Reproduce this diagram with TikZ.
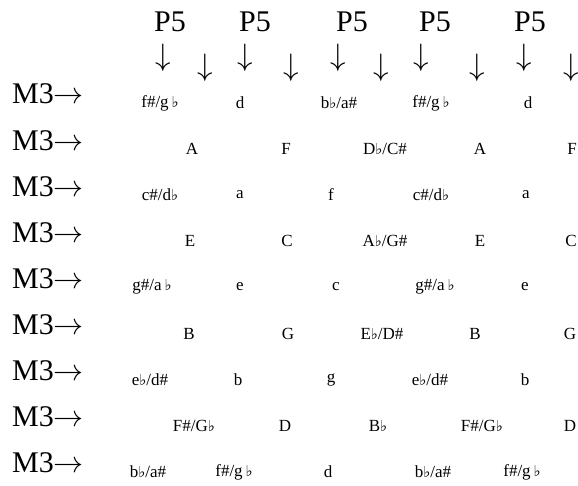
\RequirePackage{fix-cm}
\documentclass[tikz,border=0pt]{standalone}
\usepackage{fontspec}
\setmainfont{Liberation Serif}
\newfontfamily\symfamily{DejaVu Serif}
\newcommand{\fl}{{\symfamily\fontsize{15}{17}\selectfont ♭}}
\begin{document}
\begin{tikzpicture}[x=1pt,y=-1pt,
  big/.style={font=\fontsize{30}{36}\selectfont, inner sep=0pt, text height=20pt, text depth=0pt},
  rowlab/.style={big, anchor=west},
  darr/.style={font=\fontsize{31}{37}\selectfont, inner sep=0pt, text height=21.5pt, text depth=6pt},
  note/.style={font=\fontsize{17}{20}\selectfont, inner sep=0pt}]
\useasboundingbox (0,0) rectangle (578,486);
% P5 labels
\node[big] (p1) at (170,22) {P5};
\node[big] (p2) at (255,22) {P5};
\node[big] (p3) at (352,22) {P5};
\node[big] (p4) at (435,22) {P5};
\node[big] (p5) at (530,22) {P5};
% arrows upper
\node[darr] (ua1) at (163,58) {$\downarrow$};
\node[darr] (ua2) at (245,58) {$\downarrow$};
\node[darr] (ua3) at (338,58) {$\downarrow$};
\node[darr] (ua4) at (421,58) {$\downarrow$};
\node[darr] (ua5) at (524,58) {$\downarrow$};
% arrows lower
\node[darr] (la1) at (205,68) {$\downarrow$};
\node[darr] (la2) at (291,68) {$\downarrow$};
\node[darr] (la3) at (381,68) {$\downarrow$};
\node[darr] (la4) at (477,68) {$\downarrow$};
\node[darr] (la5) at (571,68) {$\downarrow$};
% row labels
\foreach \i in {0,...,8} {
  \node[rowlab] (m\i) at (12,{94+46.1*\i}) {M3$\rightarrow$};
}
% row 1
\node[note] (r1c1) at (160,103) {f\#/g\,\fl};
\node[note] (r1c2) at (240,103) {d};
\node[note] (r1c3) at (339,103) {b\fl/a\#};
\node[note] (r1c4) at (431,103) {f\#/g\,\fl};
\node[note] (r1c5) at (528,103) {d};
% row 2
\node[note] (r2c1) at (192,149) {A};
\node[note] (r2c2) at (286,149) {F};
\node[note] (r2c3) at (385,149) {D\fl/C\#};
\node[note] (r2c4) at (480,149) {A};
\node[note] (r2c5) at (572,149) {F};
% row 3
\node[note] (r3c1) at (160,195) {c\#/d\fl};
\node[note] (r3c2) at (240,195) {a};
\node[note] (r3c3) at (331,195) {f};
\node[note] (r3c4) at (431,195) {c\#/d\fl};
\node[note] (r3c5) at (526,195) {a};
% row 4
\node[note] (r4c1) at (190,241) {E};
\node[note] (r4c2) at (287,241) {C};
\node[note] (r4c3) at (385,241) {A\fl/G\#};
\node[note] (r4c4) at (480,241) {E};
\node[note] (r4c5) at (571,241) {C};
% row 5
\node[note] (r5c1) at (152,287) {g\#/a\,\fl};
\node[note] (r5c2) at (240,287) {e};
\node[note] (r5c3) at (336,287) {c};
\node[note] (r5c4) at (435,287) {g\#/a\,\fl};
\node[note] (r5c5) at (525,287) {e};
% row 6
\node[note] (r6c1) at (189,334) {B};
\node[note] (r6c2) at (288,334) {G};
\node[note] (r6c3) at (382,334) {E\fl/D\#};
\node[note] (r6c4) at (475,334) {B};
\node[note] (r6c5) at (570,334) {G};
% row 7
\node[note] (r7c1) at (150,380) {e\fl/d\#};
\node[note] (r7c2) at (238,380) {b};
\node[note] (r7c3) at (331,380) {g};
\node[note] (r7c4) at (430,380) {e\fl/d\#};
\node[note] (r7c5) at (525,380) {b};
% row 8
\node[note] (r8c1) at (194,426) {F\#/G\fl};
\node[note] (r8c2) at (285,426) {D};
\node[note] (r8c3) at (378,426) {B\fl};
\node[note] (r8c4) at (482,426) {F\#/G\fl};
\node[note] (r8c5) at (570,426) {D};
% row 9
\node[note] (r9c1) at (148,472) {b\fl/a\#};
\node[note] (r9c2) at (234,472) {f\#/g\,\fl};
\node[note] (r9c3) at (328,472) {d};
\node[note] (r9c4) at (433,472) {b\fl/a\#};
\node[note] (r9c5) at (522,472) {f\#/g\,\fl};
\end{tikzpicture}
\end{document}
